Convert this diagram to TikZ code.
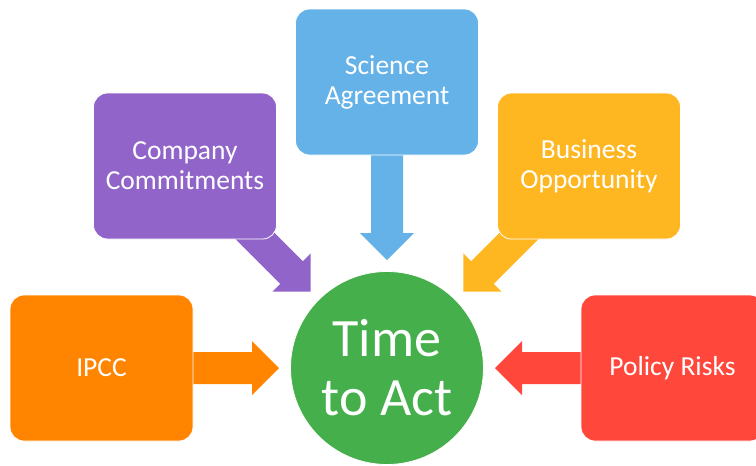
\documentclass[tikz,border=0pt]{standalone}
\usepackage{fontspec}
\setmainfont{Carlito}
\usepackage{xcolor}
\usepackage{tikz}
\usetikzlibrary{calc, backgrounds}

\definecolor{ipccorange}{HTML}{FF8400}
\definecolor{comppurple}{HTML}{9064C9}
\definecolor{sciblue}{HTML}{64B2E7}
\definecolor{busyellow}{HTML}{FFB721}
\definecolor{polred}{HTML}{FF473C}
\definecolor{actgreen}{HTML}{45AF4B}

% block arrow from the centre of a box towards the circle
\newcommand{\fatarrow}[3]{%
  \coordinate (tip) at ($(#3.center)!108pt!(#2.center)$);
  \coordinate (hb) at ($(tip)!27pt!(#2.center)$);
  \fill[#1] ($(#2.center)!16pt!90:(tip)$) -- ($(hb)!16pt!90:(tip)$) -- ($(hb)!27pt!90:(tip)$) -- (tip)
    -- ($(hb)!27pt!-90:(tip)$) -- ($(hb)!16pt!-90:(tip)$) -- ($(#2.center)!16pt!-90:(tip)$) -- cycle;
}

\begin{document}
\begin{tikzpicture}[
    x=1pt, y=-1pt,
    box/.style={rectangle, rounded corners=14pt, draw=white, line width=0.8pt, minimum width=183pt, minimum height=146pt, align=center, text=white, font=\fontsize{27.5}{30}\selectfont},
    goal/.style={circle, draw=white, line width=0.8pt, fill=actgreen, minimum size=193pt, align=center, text=white, font=\fontsize{54}{59}\selectfont}
]
\useasboundingbox (0,0) rectangle (756,466);

\node[goal] (act) at (387,368) {Time\\to Act};
\node[box, fill=ipccorange] (ipcc) at (101.5,368) {IPCC};
\node[box, fill=comppurple] (comp) at (185,166) {Company\\Commitments};
\node[box, fill=sciblue] (sci) at (387,82) {Science\\Agreement};
\node[box, fill=busyellow] (bus) at (589,166) {Business\\Opportunity};
\node[box, fill=polred] (pol) at (672.5,368) {Policy Risks};

\begin{pgfonlayer}{background}
\fatarrow{ipccorange}{ipcc}{act}
\fatarrow{comppurple}{comp}{act}
\fatarrow{sciblue}{sci}{act}
\fatarrow{busyellow}{bus}{act}
\fatarrow{polred}{pol}{act}
\end{pgfonlayer}

\end{tikzpicture}
\end{document}
